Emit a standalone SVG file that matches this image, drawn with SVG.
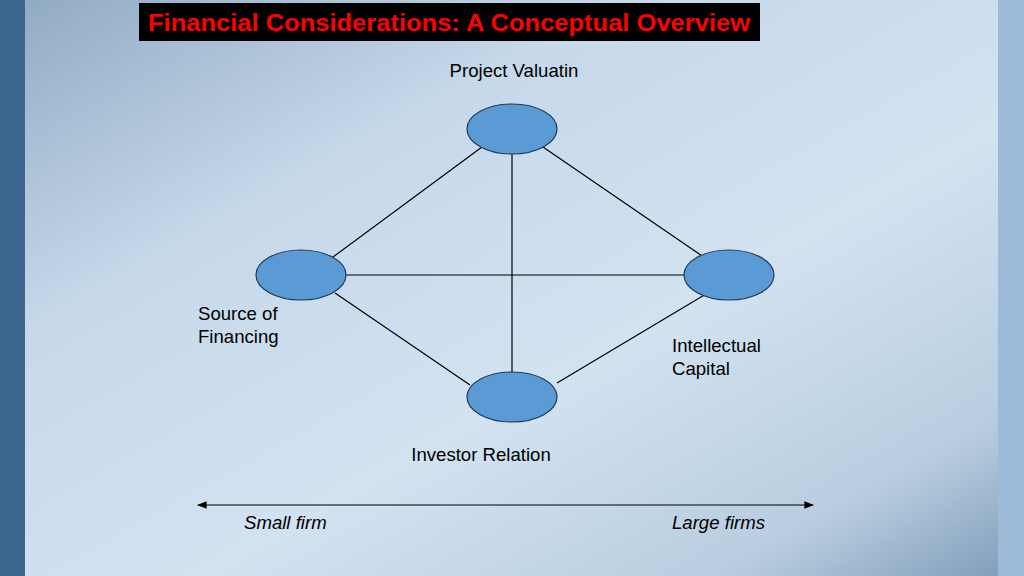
<svg xmlns="http://www.w3.org/2000/svg" width="1024" height="576" viewBox="0 0 1024 576">
<defs>
<linearGradient id="bg" x1="0" y1="0" x2="1" y2="1">
<stop offset="0" stop-color="#8fa9c2"/>
<stop offset="0.3" stop-color="#c6d8ea"/>
<stop offset="0.6" stop-color="#d2e2f1"/>
<stop offset="0.85" stop-color="#b9cde0"/>
<stop offset="1" stop-color="#7d9bb8"/>
</linearGradient>
<marker id="ah" viewBox="0 0 10 10" refX="9" refY="5" markerWidth="8" markerHeight="8" orient="auto-start-reverse">
<path d="M0,1 L10,5 L0,9 z" fill="#000"/>
</marker>
<style>
.n{fill:#5b9bd5;stroke:#1f3a5a;stroke-width:1.2}
.t{font-family:"Liberation Sans",Arial,sans-serif;font-size:18.6px;fill:#000}
.c line{stroke:#000;stroke-width:1.2}
</style>
</defs>
<rect width="1024" height="576" fill="url(#bg)"/>
<rect x="0" y="0" width="25" height="576" fill="#3d6690"/>
<rect x="998" y="0" width="26" height="576" fill="#9dbbd9"/>
<g id="title">
<rect x="139" y="3" width="621" height="38" fill="#000"/>
<text x="148" y="31" textLength="602" lengthAdjust="spacingAndGlyphs" font-family="Liberation Sans,Arial,sans-serif" font-weight="bold" font-size="24" fill="#ff0000">Financial Considerations: A Conceptual Overview</text>
</g>
<g class="c" id="connectors">
<line x1="482" y1="147" x2="333" y2="257"/>
<line x1="543" y1="147" x2="708" y2="260"/>
<line x1="512" y1="154" x2="512" y2="372"/>
<line x1="346" y1="275" x2="684" y2="275"/>
<line x1="335" y1="293" x2="470" y2="385"/>
<line x1="557" y1="383" x2="706" y2="294"/>
<line x1="198" y1="505" x2="813" y2="505" marker-start="url(#ah)" marker-end="url(#ah)"/>
</g>
<g id="project"><ellipse class="n" cx="512" cy="129" rx="45" ry="25"/><text class="t" x="514" y="77" text-anchor="middle">Project Valuatin</text></g>
<g id="source"><ellipse class="n" cx="301" cy="275" rx="45" ry="25"/><text class="t" x="198" y="320">Source of</text><text class="t" x="198" y="343">Financing</text></g>
<g id="intellectual"><ellipse class="n" cx="729" cy="275" rx="45" ry="25"/><text class="t" x="672" y="352">Intellectual</text><text class="t" x="672" y="375">Capital</text></g>
<g id="investor"><ellipse class="n" cx="512" cy="397" rx="45" ry="25"/><text class="t" x="481" y="461" text-anchor="middle">Investor Relation</text></g>
<text class="t" x="244" y="529" font-style="italic">Small firm</text>
<text class="t" x="672" y="529" font-style="italic">Large firms</text>
</svg>
